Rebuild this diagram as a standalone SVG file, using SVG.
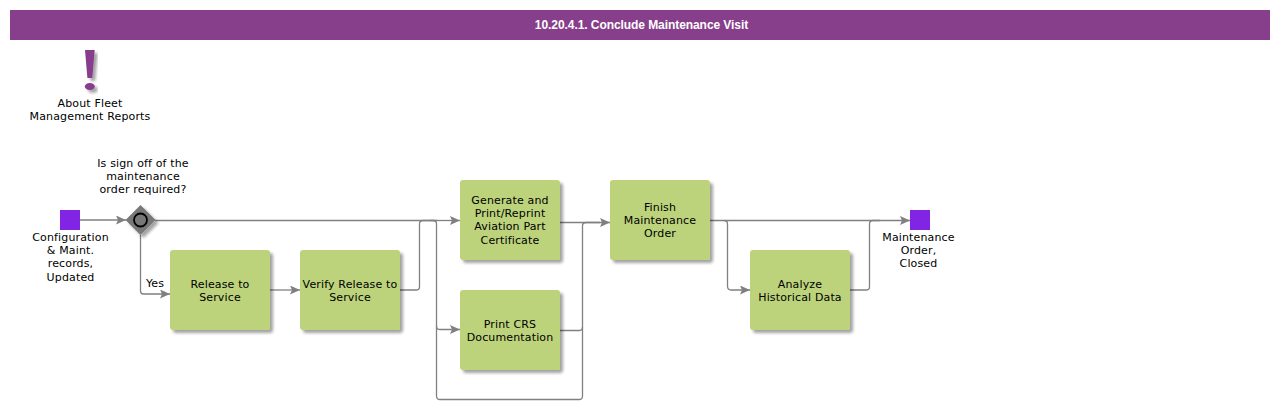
<svg xmlns="http://www.w3.org/2000/svg" width="1280" height="409" viewBox="0 0 1280 409">
<style>
text{font-family:"DejaVu Sans",sans-serif;font-size:11px;letter-spacing:.15px;fill:#000;text-anchor:middle}
.title{font-family:"Liberation Sans",Arial,sans-serif;font-size:12px;font-weight:700;letter-spacing:-.07px;fill:#fff}
.task{fill:#bcd37b;filter:url(#sh)}
.ev{fill:#8224e3}
.c{fill:none;stroke:#808080;stroke-width:1.3}
</style>
<defs>
<filter id="sh" x="-20%" y="-20%" width="150%" height="150%"><feDropShadow dx="3" dy="3" stdDeviation="1.5" flood-color="#000" flood-opacity=".36"/></filter>
<marker id="ah" markerUnits="userSpaceOnUse" markerWidth="11" markerHeight="10" refX="10" refY="4.500" orient="auto"><path d="M0 0L10 4.500L0 9L2 4.500Z" fill="#808080"/></marker>
</defs>
<g id="header"><rect x="10" y="10" width="1260" height="30" fill="#873e8b"/><text class="title" x="641.500" y="29">10.20.4.1. Conclude Maintenance Visit</text></g>
<g id="note"><g filter="url(#sh)"><path d="M85 50H94.700L92.300 78H87.400Z" fill="#873e8b"/><ellipse cx="89.800" cy="86.500" rx="5" ry="3.500" fill="#873e8b"/></g><text x="90" y="107">About Fleet</text><text x="90" y="120">Management Reports</text></g>
<g id="connectors">
<path class="c" marker-end="url(#ah)" d="M80 220H126"/>
<path class="c" d="M155 220.500H437"/>
<path class="c" marker-end="url(#ah)" d="M430 220.500H460"/>
<path class="c" marker-end="url(#ah)" d="M140.500 235V291Q140.500 294 143.500 294H170"/>
<path class="c" marker-end="url(#ah)" d="M270 290H300"/>
<path class="c" d="M400 290H416Q419.500 290 419.500 287V224Q419.500 220.500 423 220.500H433Q436.500 220.500 436.500 224V396Q436.500 399.500 440 399.500H579Q582.500 399.500 582.500 396V226Q582.500 222.500 586 222.500H600"/>
<path class="c" marker-end="url(#ah)" d="M436.500 326Q436.500 329.500 440 329.500H460"/>
<path class="c" marker-end="url(#ah)" d="M560 222.500H610"/>
<path class="c" d="M560 330.500H579Q582.500 330.500 582.500 327"/>
<path class="c" marker-end="url(#ah)" d="M710 220.500H910"/>
<path class="c" marker-end="url(#ah)" d="M724 220.500Q727.500 220.500 727.500 224V286Q727.500 290 731 290H750"/>
<path class="c" d="M850 290H866Q869.500 290 869.500 287V224Q869.500 220.500 873 220.500H880"/>
</g>
<g id="start"><rect class="ev" x="60" y="210" width="20" height="20"/><text x="70.500" y="241">Configuration</text><text x="70.500" y="254">&amp; Maint.</text><text x="70.500" y="267">records,</text><text x="70.500" y="281">Updated</text></g>
<g id="gateway"><path d="M140.500 205L155.500 220L140.500 235L125.500 220Z" fill="#787878" filter="url(#sh)"/><circle cx="140.500" cy="220" r="6.500" fill="none" stroke="#000" stroke-width="1.800"/><text x="143" y="167">Is sign off of the</text><text x="143" y="180">maintenance</text><text x="143" y="193">order required?</text></g>
<g id="yes-label"><text x="155" y="287">Yes</text></g>
<g id="release"><rect class="task" x="170" y="250" width="100" height="80" rx="3"/><text x="220" y="288">Release to</text><text x="220" y="301">Service</text></g>
<g id="verify"><rect class="task" x="300" y="250" width="100" height="80" rx="3"/><text x="350" y="288">Verify Release to</text><text x="350" y="301">Service</text></g>
<g id="generate"><rect class="task" x="460" y="180" width="100" height="80" rx="3"/><text x="510" y="204">Generate and</text><text x="510" y="217">Print/Reprint</text><text x="510" y="230">Aviation Part</text><text x="510" y="244">Certificate</text></g>
<g id="print"><rect class="task" x="460" y="290" width="100" height="80" rx="3"/><text x="510" y="328">Print CRS</text><text x="510" y="341">Documentation</text></g>
<g id="finish"><rect class="task" x="610" y="180" width="100" height="80" rx="3"/><text x="660" y="211">Finish</text><text x="660" y="224">Maintenance</text><text x="660" y="237">Order</text></g>
<g id="analyze"><rect class="task" x="750" y="250" width="100" height="80" rx="3"/><text x="800" y="288">Analyze</text><text x="800" y="301">Historical Data</text></g>
<g id="end"><rect class="ev" x="910" y="210" width="20" height="20"/><text x="918.500" y="241">Maintenance</text><text x="918.500" y="254">Order,</text><text x="918.500" y="267">Closed</text></g>
</svg>
